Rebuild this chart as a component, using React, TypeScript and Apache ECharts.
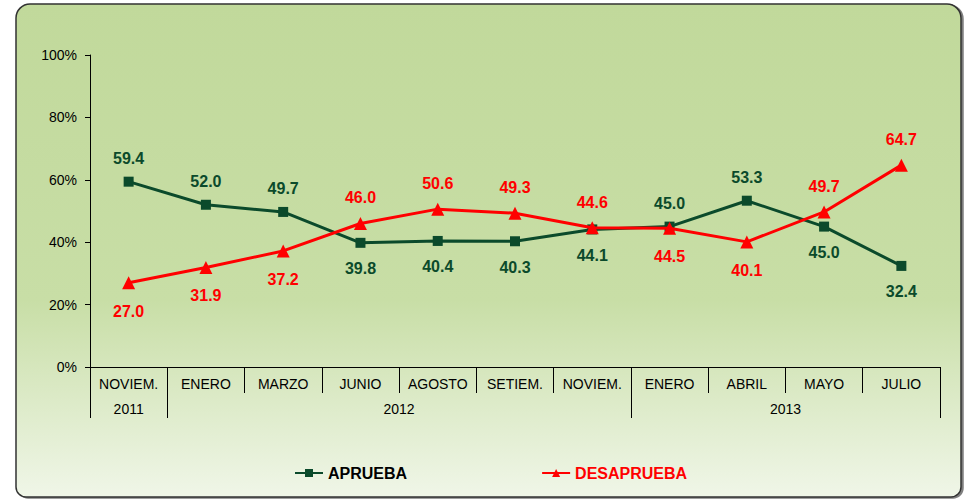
import React, { useEffect, useRef } from "react";
import * as echarts from "echarts";

const months = ["NOVIEM.", "ENERO", "MARZO", "JUNIO", "AGOSTO", "SETIEM.", "NOVIEM.", "ENERO", "ABRIL", "MAYO", "JULIO"];
const years = ["2011", "2012", "2012", "2012", "2012", "2012", "2012", "2013", "2013", "2013", "2013"];
const aprueba = [59.4, 52.0, 49.7, 39.8, 40.4, 40.3, 44.1, 45.0, 53.3, 45.0, 32.4];
const desaprueba = [27.0, 31.9, 37.2, 46.0, 50.6, 49.3, 44.6, 44.5, 40.1, 49.7, 64.7];
const apruebaLabelPos = ["top", "top", "top", "bottom", "bottom", "bottom", "bottom", "top", "top", "bottom", "bottom"];
const desapruebaLabelPos = ["bottom", "bottom", "bottom", "top", "top", "top", "top", "bottom", "bottom", "top", "top"];

const GREEN = "#0b4a2b";
const RED = "#ff0000";
const FONT = "'Liberation Sans', Arial, sans-serif";

export default function App() {
  const ref = useRef<HTMLDivElement>(null);
  useEffect(() => {
    document.body.style.margin = "0";
    const chart = echarts.init(ref.current!, null, { renderer: "svg" });

    // year groups derived from the years array
    const bounds: number[] = [0];
    for (let i = 1; i < years.length; i++) if (years[i] !== years[i - 1]) bounds.push(i);
    bounds.push(years.length);
    const centers: number[] = [];
    const centerLabel: Record<string, string> = {};
    for (let b = 0; b < bounds.length - 1; b++) {
      const c = (bounds[b] + bounds[b + 1]) / 2;
      centers.push(c);
      centerLabel[String(c)] = years[bounds[b]];
    }

    const mkData = (vals: number[], pos: string[], topDist: number, botDist: number) =>
      vals.map((v, i) => ({
        value: v,
        label: { position: pos[i], distance: pos[i] === "top" ? topDist : botDist },
      }));

    const labelStyle = (color: string) => ({
      show: true,
      color,
      fontSize: 16,
      fontWeight: "bold",
      fontFamily: FONT,
      formatter: (p: any) => p.value.toFixed(1),
    });

    chart.setOption({
      animation: false,
      textStyle: { fontFamily: FONT },
      graphic: [
        {
          type: "rect",
          z: -10,
          silent: true,
          shape: { x: 16, y: 4, width: 945, height: 493, r: [14, 14, 10, 10] },
          style: {
            fill: new echarts.graphic.LinearGradient(0, 0, 0, 1, [
              { offset: 0, color: "#c1d99b" },
              { offset: 0.6, color: "#c8dea6" },
              { offset: 1, color: "#f0f6e8" },
            ]),
            stroke: "#333",
            lineWidth: 1.5,
            shadowColor: "rgba(0,0,0,0.5)",
            shadowOffsetX: 2,
            shadowOffsetY: 1,
            shadowBlur: 1,
          },
        },
      ],
      grid: { left: 90, right: 26, top: 55, bottom: 133, containLabel: false },
      legend: {
        bottom: 14,
        left: 289,
        itemGap: 134,
        itemWidth: 28,
        itemHeight: 10,
        data: [
          { name: "APRUEBA", textStyle: { color: "#000" } },
          { name: "DESAPRUEBA", textStyle: { color: RED } },
        ],
        textStyle: { fontSize: 16, fontWeight: "bold", fontFamily: FONT },
      },
      xAxis: [
        {
          type: "category",
          data: months,
          boundaryGap: true,
          axisLine: { lineStyle: { color: "#000", width: 1 } },
          axisTick: { show: true, interval: 0, length: 26, lineStyle: { color: "#000" } },
          axisLabel: { interval: 0, color: "#000", fontSize: 14, margin: 10, fontFamily: FONT },
          splitLine: { show: false },
        },
        {
          type: "value",
          min: 0,
          max: months.length,
          position: "bottom",
          axisLine: { show: false },
          axisTick: { show: true, customValues: bounds, length: 51, lineStyle: { color: "#000" } },
          axisLabel: {
            customValues: centers,
            color: "#000",
            fontSize: 14,
            margin: 35,
            fontFamily: FONT,
            formatter: (v: number) => centerLabel[String(v)] ?? "",
          },
          splitLine: { show: false },
        },
      ],
      yAxis: {
        type: "value",
        min: 0,
        max: 100,
        interval: 20,
        axisLine: { show: true, lineStyle: { color: "#000" } },
        axisTick: { show: true, length: 5, lineStyle: { color: "#000" } },
        axisLabel: { formatter: "{value}%", color: "#000", fontSize: 14, margin: 13, fontFamily: FONT },
        splitLine: { show: false },
      },
      series: [
        {
          name: "APRUEBA",
          type: "line",
          data: mkData(aprueba, apruebaLabelPos, 10, 13),
          symbol: "rect",
          symbolSize: 10,
          itemStyle: { color: GREEN },
          lineStyle: { color: GREEN, width: 3 },
          label: labelStyle(GREEN),
          z: 3,
        },
        {
          name: "DESAPRUEBA",
          type: "line",
          data: mkData(desaprueba, desapruebaLabelPos, 11, 14),
          symbol: "triangle",
          symbolSize: 13,
          itemStyle: { color: RED },
          lineStyle: { color: RED, width: 3 },
          label: labelStyle(RED),
          z: 4,
        },
      ],
    });
    return () => chart.dispose();
  }, []);
  return <div ref={ref} style={{ width: 966, height: 500 }} />;
}
